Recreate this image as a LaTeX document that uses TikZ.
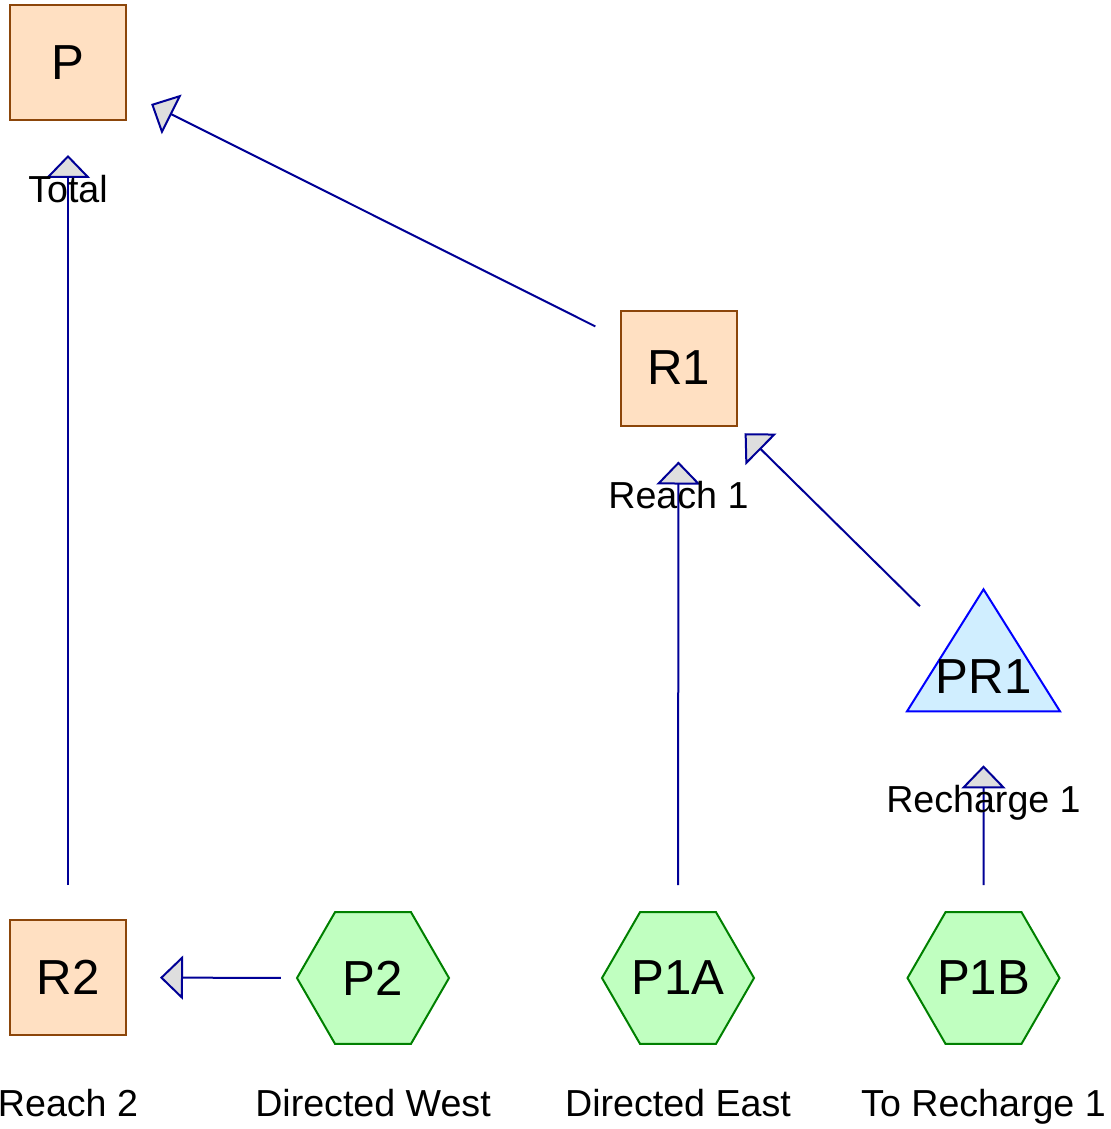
\documentclass[tikz,border=0pt]{standalone}
\usepackage{fontspec}
\setmainfont{Liberation Sans}
\usepackage{tikz}
\usetikzlibrary{arrows.meta,shapes.geometric}
\definecolor{boxfill}{RGB}{255,224,194}
\definecolor{boxline}{RGB}{140,70,10}
\definecolor{hexfill}{RGB}{192,255,192}
\definecolor{hexline}{RGB}{0,128,0}
\definecolor{trifill}{RGB}{208,238,255}
\definecolor{triline}{RGB}{0,0,255}
\definecolor{flowc}{RGB}{0,0,150}
\definecolor{tipfill}{RGB}{222,222,222}

\begin{document}
\begin{tikzpicture}[every node/.style={font=\fontsize{14}{16}\selectfont},
  reach/.style={draw=boxline, fill=boxfill, line width=0.2mm, minimum width=11.6mm, minimum height=11.5mm, inner sep=0pt},
  pump/.style={draw=hexline, fill=hexfill, line width=0.2mm, regular polygon, regular polygon sides=6, minimum size=15.2mm, inner sep=0pt},
  rech/.style={draw=triline, fill=trifill, line width=0.2mm, isosceles triangle, isosceles triangle apex angle=64, isosceles triangle stretches, shape border rotate=90, minimum width=15.3mm, minimum height=12.2mm, inner sep=0pt},
  lbl/.style={font=\fontsize{10.7}{12}\selectfont, text height=1.5ex, text depth=.25ex, inner sep=0pt},
  flow/.style={draw=flowc, line width=0.2mm, -{Triangle[length=2.3mm, width=4.4mm, fill=tipfill]}}]
  \useasboundingbox (0,0) rectangle (11.10,-11.29);
  % reaches
  \node[reach] (P) at (0.68,-0.625) {P};
  \node[reach] (R1) at (6.785,-3.68) {R1};
  \node[reach] (R2) at (0.68,-9.775) {R2};
  \node[rech, label={[yshift=-0.8mm]center:PR1}] (PR1) at (9.835,-6.69) {};
  % pumps and their names
  \node[lbl] (lR2) at (0.68,-11.05) {Reach 2};
  \foreach \n/\x/\t in {P2/3.73/Directed West, P1A/6.78/Directed East, P1B/9.835/To Recharge 1} {
    \node[pump] (\n) at (\x,-9.78) {\n};
    \node[lbl] (l\n) at (\x,-11.05) {\t};
  }
  % flows
  \draw[flow, shorten <=3.4mm, shorten >=3.4mm] (R2) -- (P) node[lbl, pos=1, yshift=-7mm] {Total};
  \draw[flow, shorten <=2.7mm, shorten >=2.7mm] (R1) -- (P);
  \draw[flow, shorten <=2.6mm, shorten >=3.5mm] (P1A) -- (R1) node[lbl, pos=1, yshift=-7mm] {Reach 1};
  \draw[flow, shorten <=4.5mm, shorten >=1mm] (PR1) -- (R1);
  \draw[flow, shorten <=2.6mm, shorten >=5.3mm] (P1B) -- (PR1) node[lbl, pos=1, yshift=-8.9mm] {Recharge 1};
  \draw[flow, shorten <=1.5mm, shorten >=3.3mm] (P2) -- (R2);
\end{tikzpicture}
\end{document}
